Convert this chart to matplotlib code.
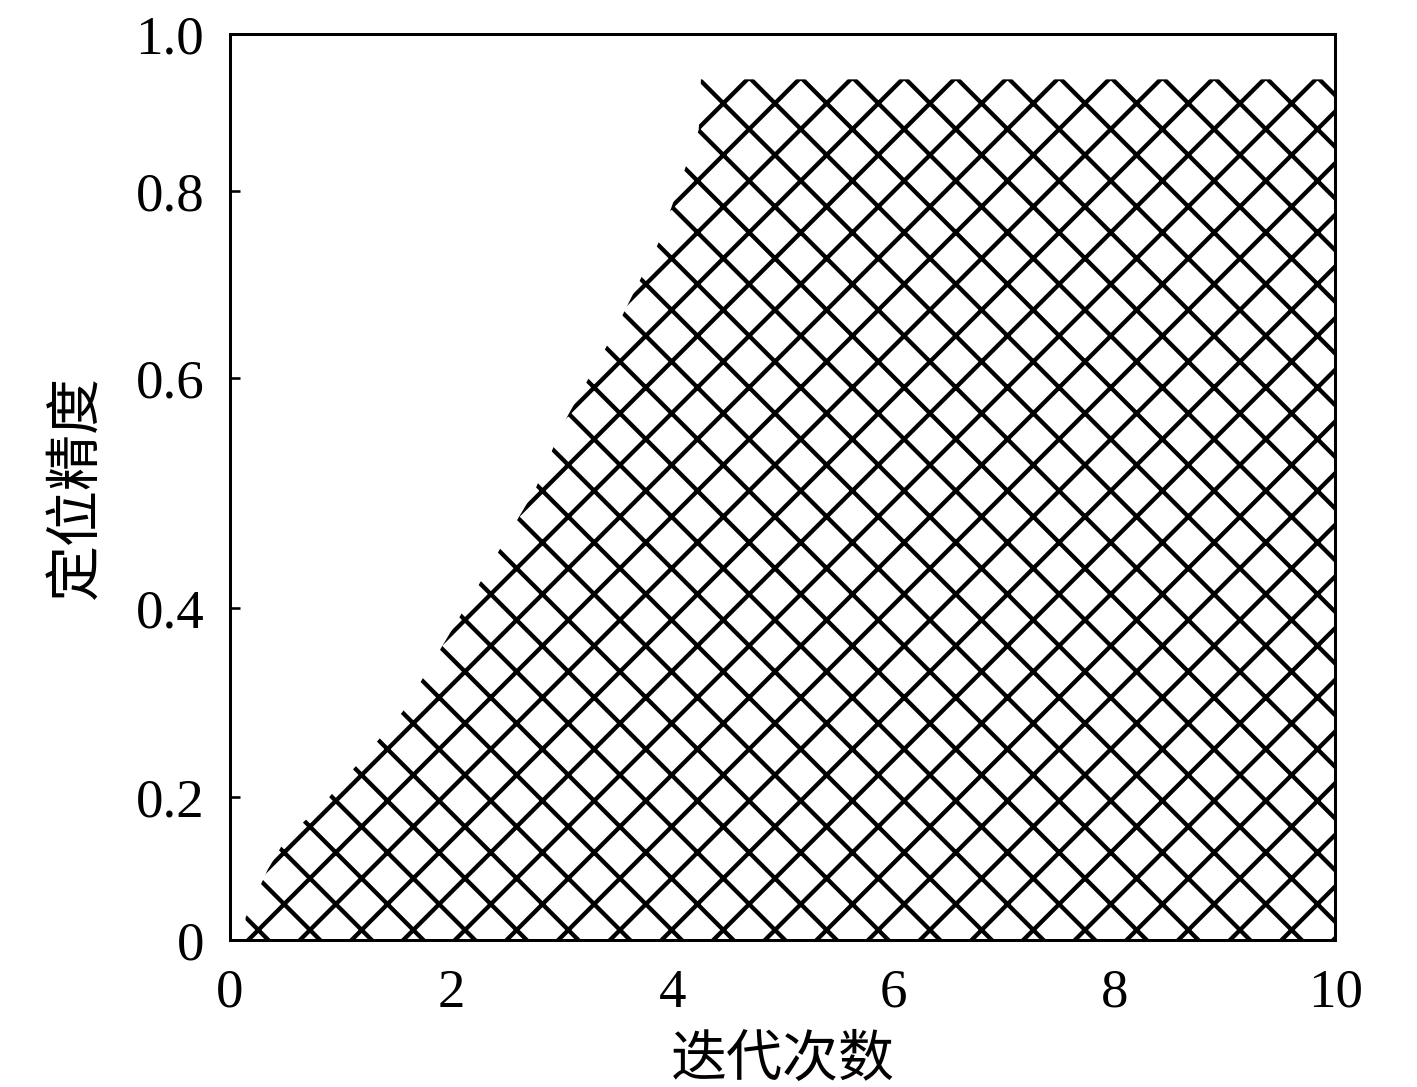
import numpy as np
import matplotlib
matplotlib.use("Agg")
import matplotlib.pyplot as plt

# ---- data ----
iters = [0.14, 0.34, 0.50, 0.90, 1.56, 1.90, 2.26, 2.76, 3.03, 3.44, 3.89, 4.24, 4.26, 10.0]
accuracy = [0.031, 0.098, 0.140, 0.200, 0.290, 0.356, 0.422, 0.503, 0.563, 0.641, 0.748, 0.878, 0.942, 0.942]

x_ticks = [0, 2, 4, 6, 8, 10]
x_ticklabels = ["0", "2", "4", "6", "8", "10"]
y_ticks = [0.0, 0.2, 0.4, 0.6, 0.8, 1.0]
y_ticklabels = ["0", "0.2", "0.4", "0.6", "0.8", "1.0"]
# the original axis is not evenly spaced: fraction of axis height at each tick
y_tick_frac = [0.0, 0.158, 0.366, 0.620, 0.826, 1.0]

xlabel = "迭代次数"
ylabel = "定位精度"

DPI = 155
plt.rcParams["hatch.linewidth"] = 2.0
plt.rcParams["hatch.color"] = "black"

fig = plt.figure(figsize=(1417.4 / DPI, 1087.4 / DPI), dpi=DPI)
ax = fig.add_axes([230 / 1417, 1 - 940 / 1087, (1335 - 230) / 1417, (940 - 34) / 1087])

fwd = lambda v: np.interp(v, y_ticks, y_tick_frac)
inv = lambda v: np.interp(v, y_tick_frac, y_ticks)
ax.set_yscale("function", functions=(fwd, inv))

ax.fill_between(iters, 0, accuracy, facecolor="white", edgecolor="black",
                hatch="x", linewidth=0)

ax.set_xlim(0, 10)
ax.set_ylim(0, 1.0)

serif = ["Liberation Serif", "DejaVu Serif"]
cjk = ["Noto Sans CJK SC", "DejaVu Sans"]

ax.set_xticks(x_ticks)
ax.set_xticklabels(x_ticklabels, family=serif, fontsize=25.5)
ax.set_yticks(y_ticks)
ax.set_yticklabels(y_ticklabels, family=serif, fontsize=25.5)
ax.minorticks_off()

ax.tick_params(axis="x", length=0, pad=13)
ax.tick_params(axis="y", direction="in", length=4.5, width=1.2, pad=12)

for s in ax.spines.values():
    s.set_linewidth(1.4)
    s.set_color("black")

ax.set_xlabel(xlabel, family=cjk, fontsize=26, labelpad=6)
ax.set_ylabel(ylabel, family=cjk, fontsize=26, labelpad=14)

fig.savefig("out.png", dpi=DPI, facecolor="white")
